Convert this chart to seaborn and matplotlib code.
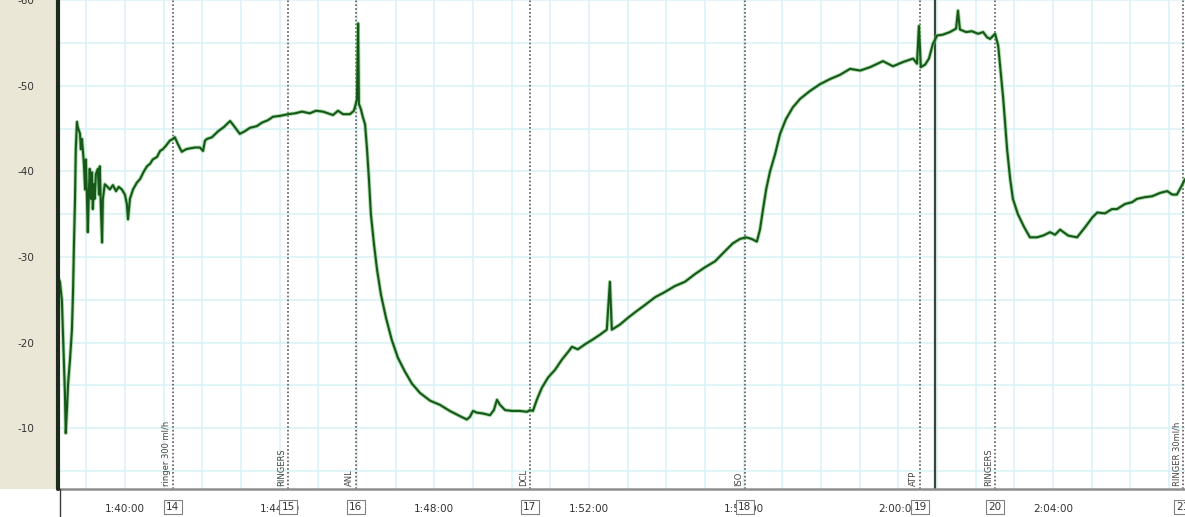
import matplotlib
matplotlib.use("Agg")
import matplotlib.pyplot as plt
import matplotlib.ticker as mticker
from matplotlib.patches import Rectangle
from matplotlib.lines import Line2D
import pandas as pd
import seaborn as sns

# Recording time in minutes (100.0 = 1:40:00) and membrane potential (mV)
time_min = [
    98.29, 98.32, 98.34, 98.37, 98.40, 98.42, 98.45, 98.47, 98.50, 98.53,
    98.58, 98.63, 98.66, 98.68, 98.71, 98.73, 98.76, 98.78, 98.84, 98.86,
    98.89, 98.94, 98.97, 98.99, 99.02, 99.04, 99.07, 99.09, 99.12, 99.15,
    99.17, 99.20, 99.22, 99.25, 99.30, 99.33, 99.35, 99.38, 99.41, 99.43,
    99.48, 99.53, 99.61, 99.69, 99.77, 99.84, 99.92, 100.00, 100.05, 100.08,
    100.13, 100.21, 100.31, 100.39, 100.49, 100.57, 100.65, 100.72, 100.83, 100.91,
    100.98, 101.06, 101.16, 101.24, 101.29, 101.37, 101.47, 101.58, 101.68, 101.81,
    101.94, 102.02, 102.07, 102.12, 102.25, 102.41, 102.56, 102.72, 102.84, 102.97,
    103.10, 103.23, 103.41, 103.54, 103.70, 103.83, 104.01, 104.22, 104.40, 104.58,
    104.78, 104.94, 105.12, 105.25, 105.38, 105.51, 105.64, 105.82, 105.92, 105.97,
    106.00, 106.03, 106.05, 106.10, 106.15, 106.21, 106.26, 106.31, 106.36, 106.44,
    106.52, 106.62, 106.75, 106.90, 107.06, 107.24, 107.42, 107.63, 107.89, 108.15,
    108.40, 108.66, 108.84, 108.92, 109.00, 109.10, 109.26, 109.44, 109.54, 109.62,
    109.70, 109.83, 110.01, 110.21, 110.40, 110.47, 110.55, 110.65, 110.78, 110.94,
    111.12, 111.30, 111.46, 111.56, 111.71, 111.90, 112.08, 112.28, 112.46, 112.54,
    112.59, 112.80, 113.01, 113.21, 113.45, 113.71, 113.96, 114.22, 114.48, 114.74,
    115.00, 115.26, 115.52, 115.72, 115.90, 116.06, 116.21, 116.34, 116.42, 116.50,
    116.58, 116.68, 116.81, 116.94, 117.09, 117.27, 117.46, 117.71, 117.97, 118.23,
    118.49, 118.75, 119.01, 119.27, 119.60, 119.86, 120.12, 120.38, 120.48, 120.53,
    120.58, 120.69, 120.79, 120.89, 121.00, 121.15, 121.33, 121.49, 121.54, 121.59,
    121.75, 121.90, 122.06, 122.19, 122.29, 122.37, 122.50, 122.58, 122.65, 122.71,
    122.76, 122.81, 122.89, 122.96, 123.09, 123.25, 123.40, 123.58, 123.74, 123.92,
    124.05, 124.18, 124.39, 124.62, 124.83, 125.01, 125.14, 125.34, 125.52, 125.65,
    125.86, 126.04, 126.17, 126.38, 126.56, 126.77, 126.95, 127.08, 127.20, 127.31,
    127.41,
]
potential_mv = [
    -27.4, -27.1, -26.2, -25.0, -20.9, -18.0, -13.9, -9.4, -12.1, -15.1,
    -18.0, -21.5, -26.2, -30.9, -36.8, -42.6, -45.8, -45.2, -44.4, -42.6,
    -43.8, -40.9, -37.9, -41.4, -36.8, -32.9, -37.9, -40.3, -36.8, -39.9,
    -35.6, -38.5, -36.8, -39.7, -40.3, -37.3, -40.6, -35.6, -31.7, -36.8,
    -38.5, -38.3, -37.9, -38.4, -37.7, -38.2, -37.9, -37.3, -36.2, -34.4,
    -36.8, -37.9, -38.7, -39.1, -40.0, -40.6, -40.9, -41.4, -41.7, -42.4,
    -42.6, -43.0, -43.6, -43.8, -44.0, -43.2, -42.3, -42.6, -42.7, -42.8,
    -42.8, -42.4, -43.6, -43.8, -44.0, -44.7, -45.2, -45.9, -45.2, -44.4,
    -44.7, -45.1, -45.3, -45.7, -46.0, -46.4, -46.5, -46.7, -46.8, -47.0,
    -46.8, -47.1, -47.0, -46.8, -46.6, -47.1, -46.7, -46.7, -47.1, -47.9,
    -48.5, -57.3, -47.9, -47.3, -46.4, -45.5, -42.6, -39.1, -35.0, -31.5,
    -28.5, -25.6, -22.9, -20.3, -18.2, -16.6, -15.2, -14.1, -13.2, -12.7,
    -12.0, -11.4, -11.0, -11.3, -12.0, -11.8, -11.7, -11.5, -12.1, -13.3,
    -12.7, -12.1, -12.0, -12.0, -11.9, -12.1, -12.0, -13.3, -14.7, -15.9,
    -16.8, -18.0, -18.9, -19.5, -19.2, -19.8, -20.3, -20.9, -21.5, -27.1,
    -21.5, -22.1, -22.9, -23.6, -24.4, -25.3, -25.9, -26.6, -27.1, -28.0,
    -28.8, -29.5, -30.7, -31.6, -32.1, -32.3, -32.1, -31.8, -33.2, -35.6,
    -37.9, -40.0, -42.0, -44.4, -46.1, -47.5, -48.5, -49.4, -50.2, -50.8,
    -51.3, -52.0, -51.8, -52.2, -52.9, -52.3, -52.8, -53.2, -52.6, -57.0,
    -52.2, -52.5, -53.2, -54.9, -55.9, -56.0, -56.3, -56.7, -58.8, -56.6,
    -56.3, -56.4, -56.1, -56.3, -55.7, -55.5, -56.1, -54.7, -51.4, -48.5,
    -45.5, -42.6, -39.1, -36.8, -35.0, -33.5, -32.3, -32.3, -32.5, -32.9,
    -32.6, -33.2, -32.5, -32.3, -33.5, -34.6, -35.2, -35.1, -35.6, -35.6,
    -36.2, -36.4, -36.8, -37.0, -37.1, -37.5, -37.7, -37.3, -37.3, -38.2,
    -39.1,
]

# Protocol events: marker number, time (min) and annotation
event_ids = [14, 15, 16, 17, 18, 19, 20, 21]
event_times = [101.24, 104.22, 105.97, 110.47, 116.03, 120.56, 122.50, 127.36]
event_labels = ["ringer 300 ml/h", "RINGERS", "ANL", "DCL", "ISO", "ATP",
                "RINGERS", "RINGER 30ml/h"]
cursor_time = 120.95

x_range = (98.27, 127.41)
y_range = (-2.87, -60.05)

W, H = 1185, 517
sns.set_style("white")
plt.rcParams["font.family"] = ["DejaVu Sans"]
fig = plt.figure(figsize=(W / 100, H / 100), dpi=100, facecolor="white")

ax_left, ax_bottom_px = 58, 489
ax = fig.add_axes([ax_left / W, 1 - ax_bottom_px / H, 1 - ax_left / W, ax_bottom_px / H])
ax.set_facecolor("white")

# beige panel behind the y-axis labels (drawn underneath the axes)
fig.patches.append(Rectangle((0, 1 - ax_bottom_px / H), ax_left / W, ax_bottom_px / H,
                             transform=fig.transFigure, facecolor="#ebe7d6",
                             edgecolor="none", zorder=-5))

df = pd.DataFrame({"time": time_min, "mv": potential_mv})

# light cyan grid
grid_c = "#d9f2f7"
for gx in range(99, 128):
    ax.axvline(gx, color=grid_c, lw=1.1, zorder=0)
for gy in range(-60, 0, 5):
    ax.axhline(gy, color=grid_c, lw=1.1, zorder=0)

# event markers
for t in event_times:
    ax.axvline(t, color="#5a5a5a", lw=1.2, ls=(0, (1, 1.3)), zorder=2)
ax.axvline(cursor_time, color="#3a463a", lw=1.6, zorder=2)

# trace: soft green halo with a dark green core
sns.lineplot(data=df, x="time", y="mv", ax=ax, estimator=None, sort=False,
             color="#6cc46c", lw=2.8, alpha=0.6, zorder=3)
sns.lineplot(data=df, x="time", y="mv", ax=ax, estimator=None, sort=False,
             color="#17581a", lw=1.5, zorder=4)

ax.set_xlim(*x_range)
ax.set_ylim(*y_range)
ax.set_xlabel("")
ax.set_ylabel("")

# axes frame
for s in ("top", "right"):
    ax.spines[s].set_visible(False)
ax.spines["left"].set_position(("outward", 11))
ax.spines["left"].set_visible(False)
ax.spines["bottom"].set_color("#8e8e8e")
ax.spines["bottom"].set_linewidth(1.8)
ax.plot([0, 0], [0, 1], transform=ax.transAxes, color="#1f2a1f", lw=3,
        clip_on=False, zorder=6)
fig.add_artist(Line2D([59.5 / W, 59.5 / W], [0, 1 - ax_bottom_px / H],
                      transform=fig.transFigure, color="#3a3a3a", lw=1))

# y ticks
ax.yaxis.set_major_locator(mticker.MultipleLocator(10))
ax.yaxis.set_minor_locator(mticker.MultipleLocator(5))
ax.yaxis.set_major_formatter(mticker.FuncFormatter(lambda v, p: f"-{abs(int(round(v)))}"))
ax.tick_params(axis="y", which="major", direction="in", length=4, width=1,
               color="#555555", labelsize=7.5, labelcolor="#333333", pad=6)
ax.tick_params(axis="y", which="minor", direction="in", length=3, width=1,
               color="#555555")


def clock(v, pos=None):
    s = int(round(v * 60))
    return f"{s // 3600}:{(s % 3600) // 60:02d}:{s % 60:02d}"


ax.xaxis.set_major_locator(mticker.MultipleLocator(4))
ax.xaxis.set_minor_locator(mticker.MultipleLocator(1))
ax.xaxis.set_major_formatter(mticker.FuncFormatter(clock))
ax.tick_params(axis="x", which="major", direction="out", length=6, width=1,
               color="#6a6a6a", labelsize=7.5, labelcolor="#333333", pad=5)
ax.tick_params(axis="x", which="minor", direction="out", length=3, width=1,
               color="#6a6a6a")

# event annotations and numbered boxes
for eid, t, lab in zip(event_ids, event_times, event_labels):
    ax.annotate(lab, xy=(t, 0), xycoords=("data", "axes fraction"),
                xytext=(-2, 3), textcoords="offset pixels", rotation=90,
                ha="right", va="bottom", fontsize=6, color="#444444",
                annotation_clip=False, zorder=5)
    ax.annotate(str(eid), xy=(t, 0), xycoords=("data", "axes fraction"),
                xytext=(0, -18), textcoords="offset pixels", ha="center",
                va="center", fontsize=7.5, color="#333333",
                annotation_clip=False, zorder=7,
                bbox=dict(boxstyle="square,pad=0.2", fc="white", ec="#808080", lw=0.8))

fig.savefig("out.png", dpi=100, facecolor="white")
